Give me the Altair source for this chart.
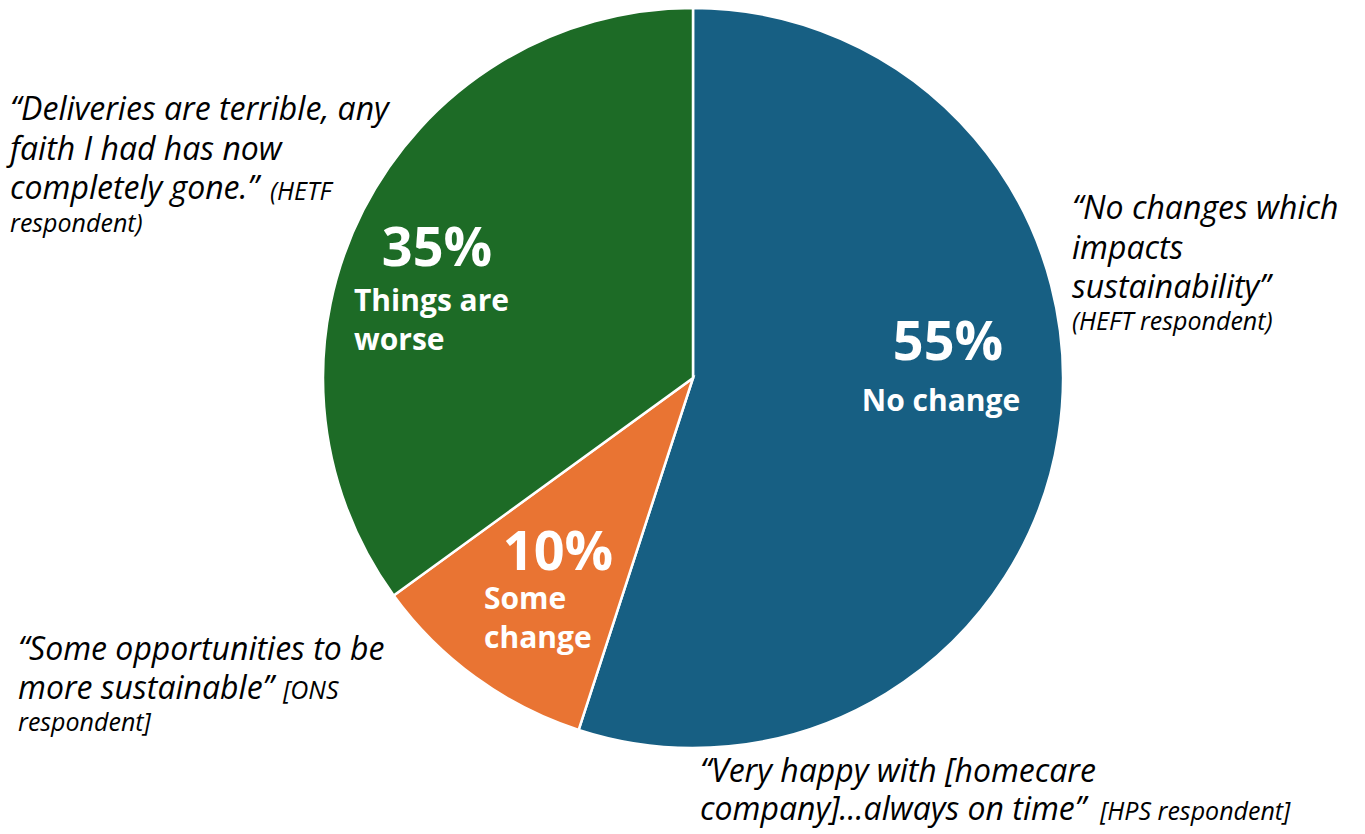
import altair as alt
import pandas as pd

# Survey responses: change in service since the new contract
categories = ["No change", "Some change", "Things are worse"]
shares = [55, 10, 35]
slice_colors = ["#175f83", "#e97433", "#1d6b26"]

pie_df = pd.DataFrame({
    "category": categories,
    "share": shares,
    "order": list(range(len(categories))),
})

W, H = 1365, 834
CX, CY, R = 693, 378, 370
FONT = "Open Sans"

pie = alt.Chart(pie_df).mark_arc(
    outerRadius=R, stroke="white", strokeWidth=2.5
).encode(
    theta=alt.Theta("share:Q", stack=True),
    order=alt.Order("order:Q"),
    color=alt.Color(
        "category:N",
        scale=alt.Scale(domain=categories, range=slice_colors),
        legend=None,
    ),
    x=alt.value(CX),
    y=alt.value(CY),
)


def label(text, x, y, size, color="black", bold=False, italic=False, align="left"):
    return alt.Chart(pd.DataFrame({"t": [text]})).mark_text(
        font=FONT,
        fontSize=size,
        fontWeight="bold" if bold else "normal",
        fontStyle="italic" if italic else "normal",
        color=color,
        align=align,
        baseline="middle",
    ).encode(text="t:N", x=alt.value(x), y=alt.value(y))


QS, SS, BS, PS = 32, 25, 30, 54

# Slice labels (value + category name)
slice_labels = [
    label(f"{shares[2]}%", 437, 250, PS, "white", bold=True, align="center"),
    label("Things are", 354, 302, BS, "white", bold=True),
    label("worse", 354, 341, BS, "white", bold=True),
    label(f"{shares[1]}%", 558, 554, PS, "white", bold=True, align="center"),
    label("Some", 484, 600, BS, "white", bold=True),
    label("change", 484, 639, BS, "white", bold=True),
    label(f"{shares[0]}%", 948, 344, PS, "white", bold=True, align="center"),
    label(categories[0], 941, 402, BS, "white", bold=True, align="center"),
]

# Respondent quotes around the pie
quotes = [
    label("\u201cDeliveries are terrible, any", 10, 110, QS, italic=True),
    label("faith I had has now", 10, 150, QS, italic=True),
    label("completely gone.\u201d", 10, 189, QS, italic=True),
    label("(HETF", 270, 192, SS, italic=True),
    label("respondent)", 10, 224, SS, italic=True),

    label("\u201cNo changes which", 1072, 209, QS, italic=True),
    label("impacts", 1072, 249, QS, italic=True),
    label("sustainability\u201d", 1072, 288, QS, italic=True),
    label("(HEFT respondent)", 1072, 322, SS, italic=True),

    label("\u201cSome opportunities to be", 18, 650, QS, italic=True),
    label("more sustainable\u201d", 18, 689, QS, italic=True),
    label("[ONS", 283, 691, SS, italic=True),
    label("respondent]", 18, 723, SS, italic=True),

    label("\u201cVery happy with [homecare", 700, 772, QS, italic=True),
    label("company]...always on time\u201d", 700, 810, QS, italic=True),
    label("[HPS respondent]", 1100, 812, SS, italic=True),
]

chart = alt.layer(pie, *slice_labels, *quotes).properties(
    width=W,
    height=H,
    autosize=alt.AutoSizeParams(type="none"),
    padding=0,
    background="white",
).configure_view(stroke=None)

chart.save("out.html", embed_options={"renderer": "svg", "actions": False})
